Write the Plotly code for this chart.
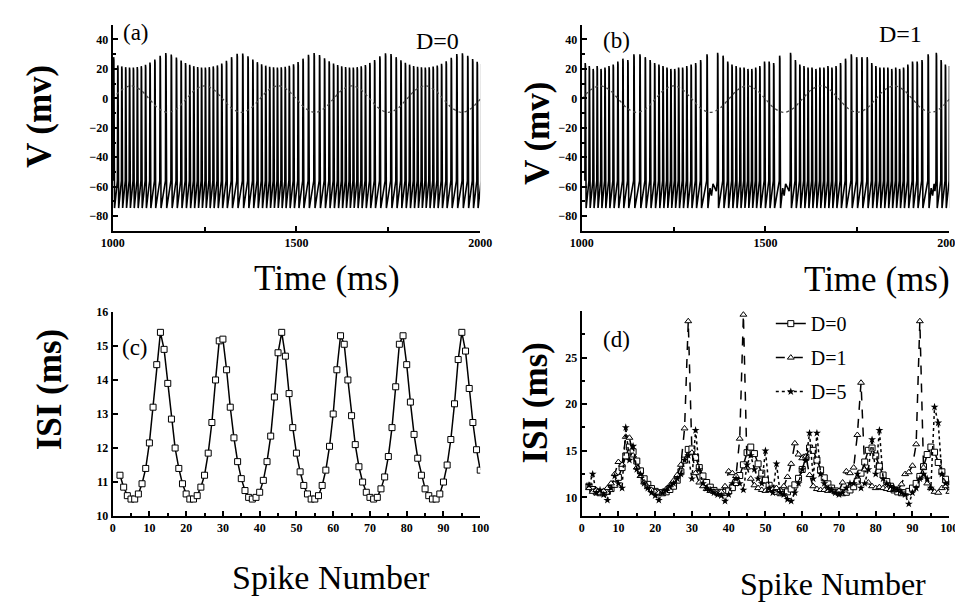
import numpy as np
import plotly.graph_objects as go

# ------------------------------------------------------------------ data
SPIKE_N = list(range(2, 101))

ISI_D0 = [11.2, 10.85, 10.6, 10.5, 10.5, 10.65, 10.95, 11.4, 12.15, 13.2,
          14.45, 15.4, 14.9, 13.9, 12.85, 12.0, 11.4, 10.95, 10.65, 10.5,
          10.5, 10.6, 10.85, 11.2, 11.85, 12.75, 14.0, 15.15, 15.2, 14.3,
          13.2, 12.3, 11.6, 11.1, 10.75, 10.55, 10.5, 10.55, 10.7, 11.05,
          11.6, 12.35, 13.5, 14.8, 15.4, 14.7, 13.6, 12.6, 11.85, 11.3,
          10.9, 10.65, 10.5, 10.5, 10.6, 10.9, 11.35, 12.05, 13.0, 14.3,
          15.3, 15.05, 14.0, 12.95, 12.1, 11.45, 11.0, 10.7, 10.55, 10.5,
          10.55, 10.8, 11.15, 11.75, 12.6, 13.8, 15.05, 15.3, 14.45, 13.35,
          12.4, 11.7, 11.2, 10.8, 10.6, 10.5, 10.5, 10.65, 11.0, 11.5,
          12.25, 13.3, 14.6, 15.4, 14.85, 13.75, 12.75, 11.95, 11.35]

ISI_D1 = [11.0, 10.6, 10.8, 10.5, 10.7, 11.0, 11.5, 12.5, 13.8, 13.5,
          16.5, 16.4, 14.5, 13.2, 12.3, 11.6, 11.1, 10.8, 10.6, 10.5,
          10.6, 10.9, 11.3, 11.8, 12.4, 13.5, 17.4, 28.9, 14.8, 12.6,
          11.6, 11.2, 10.9, 10.7, 10.6, 10.5, 10.6, 11.2, 12.8, 12.6,
          12.3, 16.3, 29.6, 13.2, 12.0, 11.3, 11.0, 10.8, 10.7, 10.8,
          10.9, 11.0, 10.8, 11.2, 12.2, 13.6, 15.8, 14.6, 14.2, 14.4,
          12.4, 11.2, 10.9, 10.8, 10.8, 10.7, 10.8, 10.6, 10.7, 11.6,
          12.8, 12.6, 13.2, 16.7, 22.3, 13.0, 11.6, 11.2, 11.0, 11.1,
          11.0, 10.9, 10.8, 10.9, 10.8, 11.4, 12.5, 12.7, 13.4, 15.7,
          28.9, 13.2, 11.5, 11.0, 10.6, 10.5, 11.0, 11.2, 10.6]

ISI_D5 = [11.3, 12.5, 10.5, 10.8, 10.3, 9.7, 11.0, 12.3, 11.5, 11.0,
          17.5, 14.0, 15.5, 13.0, 12.5, 11.5, 11.0, 10.5, 10.2, 9.7,
          10.5, 10.8, 11.2, 11.5, 12.0, 12.5, 14.0, 14.5, 12.0, 17.2,
          13.0, 11.5, 11.0, 10.8, 10.5, 10.3, 10.2, 9.6, 10.3, 11.5,
          12.0, 11.5, 10.8, 13.5, 14.5, 13.0, 12.0, 11.5, 15.0, 11.0,
          10.5, 13.6, 10.5, 10.3, 9.8, 9.6, 10.5, 11.5, 13.0, 14.0,
          16.9, 12.0, 16.9, 12.5, 11.5, 11.0, 10.8, 10.5, 10.3, 10.5,
          11.0, 11.5, 11.5, 12.5, 11.0, 11.5, 13.0, 16.2, 12.5, 17.2,
          12.0, 11.5, 11.2, 11.0, 10.8, 10.5, 10.3, 9.3, 10.5, 11.0,
          12.0, 12.5, 12.0, 11.0, 19.7, 18.0, 12.5, 11.5, 11.5]

# spike peak voltages (mV), spike 1 onwards
PEAK_A = [28, 22.4, 21.7, 21.2, 21, 21, 21.3, 21.9, 22.8, 24.3, 26.4, 28.9, 30.8,
          29.8, 27.8, 25.7, 24, 22.8, 21.9, 21.3, 21, 21, 21.2, 21.7, 22.4,
          23.7, 25.5, 28, 30.3, 30.4, 28.6, 26.4, 24.6, 23.2, 22.2, 21.5,
          21.1, 21, 21.1, 21.4, 22.1, 23.2, 24.7, 27, 29.6, 30.8, 29.4, 27.2,
          25.2, 23.7, 22.6, 21.8, 21.3, 21, 21, 21.2, 21.8, 22.7, 24.1, 26,
          28.6, 30.6, 30.1, 28, 25.9, 24.2, 22.9, 22, 21.4, 21.1, 21, 21.1,
          21.6, 22.3, 23.5, 25.2, 27.6, 30.1, 30.6, 28.9, 26.7, 24.8, 23.4,
          22.4]
PEAK_B = [24, 22, 20, 22, 20, 21, 22, 23, 25, 27, 26, 30, 30, 28, 26, 24, 23,
          22, 21, 20, 20, 21, 21, 22, 23, 24, 26, 30, 31, 29, 25, 23, 22, 21,
          21, 20, 20, 21, 22, 25, 25, 24, 29, 31, 26, 23, 22, 21, 21, 20, 21,
          21, 22, 21, 22, 24, 27, 30, 28, 28, 28, 24, 22, 21, 21, 21, 20, 21,
          20, 21, 23, 25, 25, 26, 30, 31, 26, 23, 22, 21, 22, 21, 21, 21, 21,
          21, 22, 24, 25, 26, 29, 31, 26, 23, 22, 21, 20, 22, 22, 21]
FIRST_SPIKE_A = 1003.0
FIRST_SPIKE_B = 1010.0

# sinusoidal stimulus sampled every 25 ms (mV)
STIM_T = list(range(1000, 2001, 25))
STIM_V = [-0.5, 5.9, 8.5, 5.9, -0.5, -6.9, -9.5, -6.9,
          -0.5, 5.9, 8.5, 5.9, -0.5, -6.9, -9.5, -6.9,
          -0.5, 5.9, 8.5, 5.9, -0.5, -6.9, -9.5, -6.9,
          -0.5, 5.9, 8.5, 5.9, -0.5, -6.9, -9.5, -6.9,
          -0.5, 5.9, 8.5, 5.9, -0.5, -6.9, -9.5, -6.9, -0.5]

V_TICKS = [-80, -60, -40, -20, 0, 20, 40]
T_TICKS = [1000, 1500, 2000]
N_TICKS = list(range(0, 101, 10))
ISI_C_TICKS = [10, 11, 12, 13, 14, 15, 16]
ISI_D_TICKS = [10, 15, 20, 25]

# ------------------------------------------------------------------ helpers
SERIF = "Liberation Serif, Times New Roman, serif"


def spike_times(first, isis):
    return first + np.concatenate([[0.0], np.cumsum(isis)])


def membrane_trace(times, peaks, trough=-74.5):
    xs, ys = [], []
    n = min(len(times), len(peaks))
    for i in range(n):
        t, p = float(times[i]), float(peaks[i])
        xs += [t - 1.2, t - 0.3, t + 0.4, t + 2.2]
        ys += [-56, p, p - 2, trough]
        if i + 1 < n:
            nxt = float(times[i + 1])
            isi = nxt - t
            if isi > 18:
                xs += [t + 8, t + 12, t + 16, nxt - 4]
                ys += [-61, -66, -58, -63]
            else:
                xs += [t + 0.45 * isi, t + 0.7 * isi]
                ys += [-66, -60]
    return xs, ys


ta = spike_times(FIRST_SPIKE_A, ISI_D0)
tb = spike_times(FIRST_SPIKE_B, ISI_D1)
xa, ya = membrane_trace(ta, PEAK_A)
xb, yb = membrane_trace(tb, PEAK_B)

fig = go.Figure()

STIM_LINE = dict(color="#4a4a4a", width=1.3, dash="dot", shape="spline")
V_LINE = dict(color="black", width=1.6)

# panel (a)
fig.add_trace(go.Scatter(x=xa, y=ya, mode="lines", line=V_LINE,
                         xaxis="x", yaxis="y", showlegend=False))
fig.add_trace(go.Scatter(x=STIM_T, y=STIM_V, mode="lines", line=STIM_LINE,
                         xaxis="x", yaxis="y", showlegend=False))
# panel (b)
fig.add_trace(go.Scatter(x=xb, y=yb, mode="lines", line=V_LINE,
                         xaxis="x2", yaxis="y2", showlegend=False))
fig.add_trace(go.Scatter(x=STIM_T, y=STIM_V, mode="lines", line=STIM_LINE,
                         xaxis="x2", yaxis="y2", showlegend=False))
# panel (c)
fig.add_trace(go.Scatter(x=SPIKE_N, y=ISI_D0, mode="lines+markers",
                         line=dict(color="black", width=1.5),
                         marker=dict(symbol="square", size=6, color="white",
                                     line=dict(color="black", width=1)),
                         xaxis="x3", yaxis="y3", showlegend=False))
# panel (d)
fig.add_trace(go.Scatter(x=SPIKE_N, y=ISI_D0, mode="lines+markers", name="D=0",
                         line=dict(color="black", width=1.5),
                         marker=dict(symbol="square", size=6, color="white",
                                     line=dict(color="black", width=1)),
                         xaxis="x4", yaxis="y4", legendgroup="a"))
fig.add_trace(go.Scatter(x=SPIKE_N, y=ISI_D1, mode="lines+markers", name="D=1",
                         line=dict(color="black", width=1.5, dash="dash"),
                         marker=dict(symbol="triangle-up", size=6, color="white",
                                     line=dict(color="black", width=1)),
                         xaxis="x4", yaxis="y4", legendgroup="b"))
fig.add_trace(go.Scatter(x=SPIKE_N, y=ISI_D5, mode="lines+markers", name="D=5",
                         line=dict(color="black", width=1.5, dash="dot"),
                         marker=dict(symbol="star", size=6, color="black"),
                         xaxis="x4", yaxis="y4", legendgroup="c"))

W, H = 963, 602


def px_x(p):
    return p / W


def px_y(p):
    return 1 - p / H


tickfont = dict(family=SERIF, size=12, color="black", weight="bold")
common = dict(showline=True, linecolor="black", linewidth=2, ticks="inside",
              ticklen=5, tickwidth=1.5, tickcolor="black", showgrid=False,
              zeroline=False, tickfont=tickfont, fixedrange=True)

fig.update_layout(
    width=W, height=H, margin=dict(l=0, r=0, t=0, b=0),
    paper_bgcolor="white", plot_bgcolor="white",
    xaxis=dict(domain=[px_x(95), px_x(472)], range=[1000, 2000], anchor="y",
               tickvals=T_TICKS, minor=dict(tickvals=[1250, 1750], ticks="inside",
                                            ticklen=4, tickcolor="black"), **common),
    yaxis=dict(domain=[px_y(221), px_y(10)], range=[-90, 50], anchor="x",
               tickvals=V_TICKS, minor=dict(dtick=10, tick0=0, ticks="inside",
                                            ticklen=3, tickcolor="black"), **common),
    xaxis2=dict(domain=[px_x(576), px_x(953)], range=[1000, 2000], anchor="y2",
                tickvals=T_TICKS, minor=dict(tickvals=[1250, 1750], ticks="inside",
                                             ticklen=4, tickcolor="black"), **common),
    yaxis2=dict(domain=[px_y(221), px_y(10)], range=[-90, 50], anchor="x2",
                tickvals=V_TICKS, minor=dict(dtick=10, tick0=0, ticks="inside",
                                             ticklen=3, tickcolor="black"), **common),
    xaxis3=dict(domain=[px_x(95), px_x(472)], range=[0, 100], anchor="y3",
                tickvals=N_TICKS, minor=dict(dtick=5, tick0=0, ticks="inside",
                                             ticklen=3, tickcolor="black"), **common),
    yaxis3=dict(domain=[px_y(513), px_y(304)], range=[10, 16], anchor="x3",
                tickvals=ISI_C_TICKS, **common),
    xaxis4=dict(domain=[px_x(576), px_x(953)], range=[0, 100], anchor="y4",
                tickvals=N_TICKS, minor=dict(dtick=5, tick0=0, ticks="inside",
                                             ticklen=3, tickcolor="black"), **common),
    yaxis4=dict(domain=[px_y(513), px_y(303)], range=[8, 30], anchor="x4",
                tickvals=ISI_D_TICKS, minor=dict(dtick=2.5, tick0=0, ticks="inside",
                                                 ticklen=3, tickcolor="black"), **common),
    legend=dict(x=px_x(770), y=px_y(296), xanchor="left", yanchor="top",
                font=dict(family=SERIF, size=20, color="black"),
                bgcolor="rgba(0,0,0,0)", traceorder="grouped", tracegroupgap=5),
    showlegend=True,
)


def ann(text, x, y, size, bold=False, angle=0):
    fig.add_annotation(text=text, x=px_x(x), y=px_y(y), xref="paper", yref="paper",
                       xanchor="center", yanchor="middle", showarrow=False,
                       textangle=angle,
                       font=dict(family=SERIF, size=size, color="black",
                                 weight="bold" if bold else "normal"))


ann("V (mv)", 20, 104, 35, bold=True, angle=-90)
ann("V (mv)", 530, 121, 35, bold=True, angle=-90)
ann("Time (ms)", 315, 270, 35)
ann("Time (ms)", 879, 271, 35)
ann("ISI (ms)", 30, 383, 35, bold=True, angle=-90)
ann("ISI (ms)", 529, 397, 35, bold=True, angle=-90)
ann("Spike Number", 319, 576, 34)
ann("Spike Number", 834, 583, 32)
ann("(a)", 119, 18, 23)
ann("D=0", 428, 27, 24)
ann("(b)", 612, 26, 23)
ann("D=1", 903, 19, 24)
ann("(c)", 118, 340, 23)
ann("(d)", 612, 332, 23)

fig.write_html("out.html")
